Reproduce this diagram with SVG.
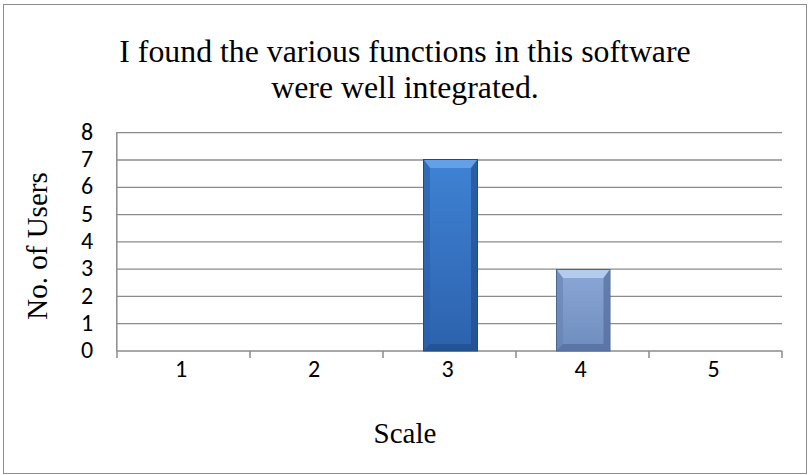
<svg xmlns="http://www.w3.org/2000/svg" width="811" height="475" viewBox="0 0 811 475">
  <style>
    .title { font-family: "Liberation Serif", "Times New Roman", serif; font-size: 31.8px; fill: #000; text-anchor: middle; }
    .axtitle { font-family: "Liberation Serif", "Times New Roman", serif; font-size: 29px; fill: #000; text-anchor: middle; }
    .tick { font-family: "Carlito", "Liberation Sans", Arial, sans-serif; font-size: 24px; fill: #000; }
    .grid { stroke: #8c8c8c; stroke-width: 1.3; }
    .axis { stroke: #8c8c8c; stroke-width: 1.5; fill: none; }
  </style>
  <defs>
    <linearGradient id="barDark" x1="0" y1="0" x2="0" y2="1">
      <stop offset="0" stop-color="#3f82d4"/>
      <stop offset="1" stop-color="#2c62ad"/>
    </linearGradient>
    <linearGradient id="barLight" x1="0" y1="0" x2="0" y2="1">
      <stop offset="0" stop-color="#8aa7d6"/>
      <stop offset="1" stop-color="#6f8cbf"/>
    </linearGradient>
  </defs>

  <!-- chart frame -->
  <rect x="3.5" y="4.5" width="803" height="469" fill="#fff" stroke="#8c8c8c" stroke-width="1"/>

  <!-- title -->
  <text class="title" x="405" y="62">I found the various functions in this software</text>
  <text class="title" x="405" y="98">were well integrated.</text>

  <!-- gridlines -->
  <g id="gridlines">
    <line class="grid" x1="117" y1="132.7" x2="782" y2="132.7"/>
    <line class="grid" x1="117" y1="160" x2="782" y2="160"/>
    <line class="grid" x1="117" y1="187.3" x2="782" y2="187.3"/>
    <line class="grid" x1="117" y1="214.6" x2="782" y2="214.6"/>
    <line class="grid" x1="117" y1="241.9" x2="782" y2="241.9"/>
    <line class="grid" x1="117" y1="269.1" x2="782" y2="269.1"/>
    <line class="grid" x1="117" y1="296.4" x2="782" y2="296.4"/>
    <line class="grid" x1="117" y1="323.7" x2="782" y2="323.7"/>
  </g>

  <!-- axes -->
  <g id="axes">
    <line class="axis" x1="116.8" y1="132" x2="116.8" y2="351"/>
    <path class="axis" d="M117 351 H782 M117 351 V358 M250 351 V358 M383 351 V358 M516 351 V358 M649 351 V358 M782 351 V358"/>
  </g>

  <!-- y tick labels -->
  <g id="y-labels" class="tick" text-anchor="middle">
    <text x="87" y="140">8</text>
    <text x="87" y="167">7</text>
    <text x="87" y="194">6</text>
    <text x="87" y="222">5</text>
    <text x="87" y="249">4</text>
    <text x="87" y="276">3</text>
    <text x="87" y="304">2</text>
    <text x="87" y="331">1</text>
    <text x="87" y="358">0</text>
  </g>

  <!-- x tick labels -->
  <g id="x-labels" class="tick" text-anchor="middle">
    <text x="181" y="377">1</text>
    <text x="314" y="377">2</text>
    <text x="447.5" y="377">3</text>
    <text x="580.5" y="377">4</text>
    <text x="713.5" y="377">5</text>
  </g>

  <!-- bars with bevelled edges -->
  <g id="bar-3">
    <rect x="423.5" y="159.5" width="54" height="191.5" fill="url(#barDark)" stroke="#1f4a85" stroke-width="1"/>
    <polygon points="424,160 477,160 471,168 430,168" fill="#6ea8ea" opacity="0.8"/>
    <polygon points="424,160 430,168 430,344 424,350.5" fill="#2a5fa6" opacity="0.6"/>
    <polygon points="477,160 471,168 471,344 477,350.5" fill="#1f4a85" opacity="0.6"/>
    <polygon points="424,350.5 430,344 471,344 477,350.5" fill="#1f4a85" opacity="0.6"/>
  </g>
  <g id="bar-4">
    <rect x="556.5" y="269.5" width="53.5" height="81.5" fill="url(#barLight)" stroke="#4c6694" stroke-width="1"/>
    <polygon points="557,270 609.5,270 603.5,278 563,278" fill="#bcd2f0" opacity="0.85"/>
    <polygon points="557,270 563,278 563,344 557,350.5" fill="#6680b0" opacity="0.6"/>
    <polygon points="609.5,270 603.5,278 603.5,344 609.5,350.5" fill="#4c6694" opacity="0.6"/>
    <polygon points="557,350.5 563,344 603.5,344 609.5,350.5" fill="#4c6694" opacity="0.6"/>
  </g>

  <!-- axis titles -->
  <text class="axtitle" x="405" y="443">Scale</text>
  <text class="axtitle" transform="translate(47 246) rotate(-90)">No. of Users</text>
</svg>
